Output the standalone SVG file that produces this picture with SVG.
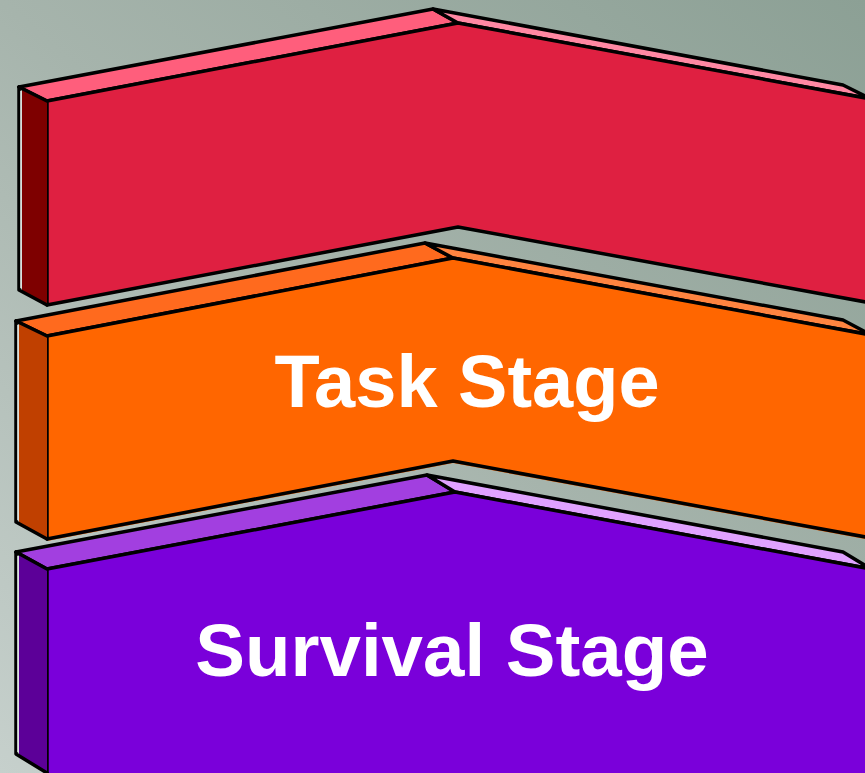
<svg xmlns="http://www.w3.org/2000/svg" width="865" height="773" viewBox="0 0 865 773">
  <defs>
    <linearGradient id="bg" x1="0" y1="1" x2="1" y2="0">
      <stop offset="0" stop-color="#C6D0CC"/>
      <stop offset="0.5" stop-color="#A6B4AC"/>
      <stop offset="1" stop-color="#8CA095"/>
    </linearGradient>
  </defs>
  <style>
    .e { stroke: #000; stroke-width: 3.5; stroke-linejoin: round; }
    .ln { fill: none; stroke: #000; stroke-width: 3.5; stroke-linecap: round; stroke-linejoin: round; }
    .hl { fill: none; stroke: #E6ECEA; stroke-width: 1.5; }
    .lbl { font-family: "Liberation Sans", Arial, sans-serif; font-weight: bold; fill: #FFFFFF; text-anchor: middle; }
  </style>
  <rect x="0" y="0" width="865" height="773" fill="url(#bg)"/>

  <g id="block-top">
    <polygon class="e" fill="#FF5E7C" points="19,87 433,9 458,23 47,101"/>
    <polygon class="e" fill="#FF88A3" points="433,9 843,85 871,99 458,23"/>
    <polygon class="e" fill="#DF2041" points="47,101 458,23 871,99 871,303 458,227 47,305"/>
    <polygon fill="#7E0000" points="22,89 47,101 47,305 22,291"/>
    <polyline class="ln" points="19,87 19,290 47,305"/>
    <line class="hl" x1="21" y1="91" x2="21" y2="288"/>
    <line class="ln" x1="19" y1="87" x2="47" y2="101"/>
  </g>

  <g id="block-task">
    <polygon class="e" fill="#FF6A1E" points="16,321 425,243 453,258 47,336"/>
    <polygon class="e" fill="#FF8440" points="425,243 843,320 871,335 453,258"/>
    <polygon fill="#FF6600" points="47,338 453,260 871,337 871,540 453,463 47,541"/>
    <polygon class="e" fill="#FF6600" points="47,336 453,258 871,335 871,538 453,461 47,539"/>
    <polygon fill="#C04000" points="19,323 47,336 47,539 19,523"/>
    <polyline class="ln" points="16,321 16,522 47,539"/>
    <line class="hl" x1="18" y1="325" x2="18" y2="520"/>
    <line class="ln" x1="16" y1="321" x2="47" y2="336"/>
    <text class="lbl" x="467" y="407" font-size="74">Task Stage</text>
  </g>

  <g id="block-survival">
    <polygon class="e" fill="#A23FE0" points="16,552 427,475 455,492 47,569"/>
    <polygon class="e" fill="#E0A2FF" points="427,475 843,552 871,569 455,492"/>
    <polygon class="e" fill="#7A00DA" points="47,569 455,492 871,569 871,800 47,800"/>
    <polygon fill="#5C0098" points="19,554 47,569 47,773 19,755"/>
    <polyline class="ln" points="16,552 16,754 47,773"/>
    <line class="hl" x1="18" y1="556" x2="18" y2="752"/>
    <line class="ln" x1="16" y1="552" x2="47" y2="569"/>
    <text class="lbl" x="452" y="676" font-size="74.5">Survival Stage</text>
  </g>

  <g id="connectors"/>
</svg>
